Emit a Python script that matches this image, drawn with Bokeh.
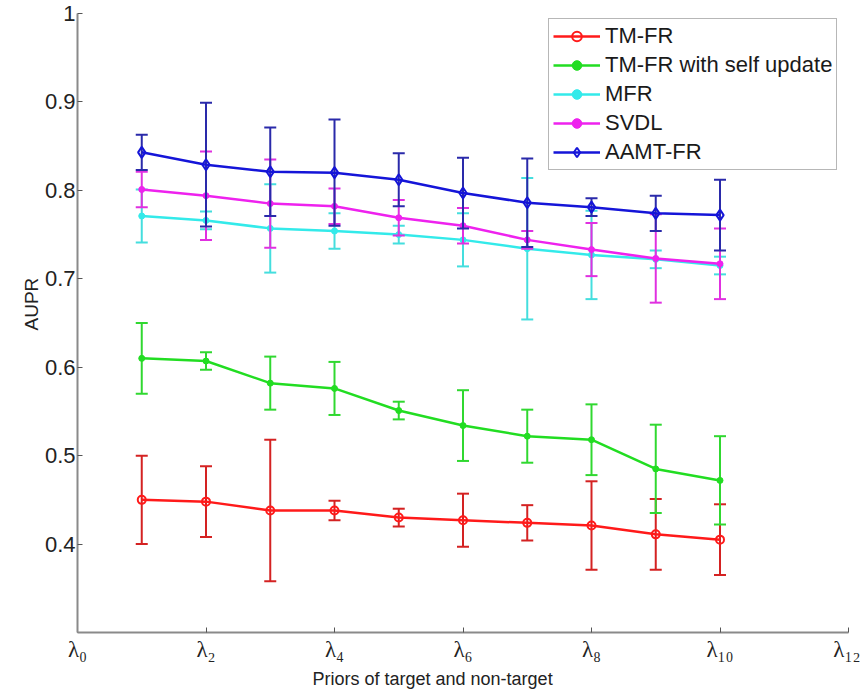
from bokeh.plotting import figure
from bokeh.models import (ColumnDataSource, Range1d, FixedTicker, Legend, LegendItem, Title)
from bokeh.embed import file_html
from bokeh.resources import INLINE

# ---- data ----
x_idx = [1, 2, 3, 4, 5, 6, 7, 8, 9, 10]

tmfr_mean = [0.450, 0.448, 0.438, 0.438, 0.430, 0.427, 0.424, 0.421, 0.411, 0.405]
tmfr_err = [0.050, 0.040, 0.080, 0.011, 0.010, 0.030, 0.020, 0.050, 0.040, 0.040]

self_mean = [0.610, 0.607, 0.582, 0.576, 0.551, 0.534, 0.522, 0.518, 0.485, 0.472]
self_err = [0.040, 0.010, 0.030, 0.030, 0.010, 0.040, 0.030, 0.040, 0.050, 0.050]

mfr_mean = [0.771, 0.766, 0.757, 0.754, 0.750, 0.744, 0.734, 0.727, 0.722, 0.715]
mfr_err = [0.030, 0.010, 0.050, 0.020, 0.010, 0.030, 0.080, 0.050, 0.010, 0.010]

svdl_mean = [0.801, 0.794, 0.785, 0.782, 0.769, 0.760, 0.744, 0.733, 0.723, 0.717]
svdl_err = [0.020, 0.050, 0.050, 0.020, 0.020, 0.020, 0.010, 0.030, 0.050, 0.040]

aamt_mean = [0.843, 0.829, 0.821, 0.820, 0.812, 0.797, 0.786, 0.781, 0.774, 0.772]
aamt_err = [0.020, 0.070, 0.050, 0.060, 0.030, 0.040, 0.050, 0.010, 0.020, 0.040]

x_ticks = [0, 2, 4, 6, 8, 10, 12]
x_tick_labels = ["λ₀", "λ₂", "λ₄", "λ₆", "λ₈", "λ₁₀", "λ₁₂"]
y_ticks = [0.4, 0.5, 0.6, 0.7, 0.8, 0.9, 1.0]
y_tick_labels = ["0.4", "0.5", "0.6", "0.7", "0.8", "0.9", "1"]
x_title = "Priors of target and non-target"
y_title = "AUPR"

series = [
    ("TM-FR", tmfr_mean, tmfr_err, "#ff1a1a", "#d42222", "circle", 8),
    ("TM-FR with self update", self_mean, self_err, "#22dd22", "#30d830", "dot", 6),
    ("MFR", mfr_mean, mfr_err, "#33eaea", "#44dede", "dot", 6),
    ("SVDL", svdl_mean, svdl_err, "#ee22ee", "#e030e0", "dot", 6),
    ("AAMT-FR", aamt_mean, aamt_err, "#1515d8", "#2a2aaa", "diamond", 11),
]

p = figure(width=860, height=695, output_backend="svg", toolbar_location=None,
           x_range=Range1d(0, 12), y_range=Range1d(0.3, 1.0),
           min_border_left=77, min_border_right=12, min_border_top=13,
           min_border_bottom=63)
p.outline_line_color = None
p.xgrid.visible = False
p.ygrid.visible = False
p.background_fill_color = "white"
p.border_fill_color = "white"

# axes
for ax in (p.xaxis, p.yaxis):
    ax.axis_line_color = "#8a8a8a"
    ax.axis_line_width = 2
    ax.major_tick_line_color = "#555555"
    ax.major_tick_line_width = 1
    ax.major_tick_in = 5
    ax.major_tick_out = 0
    ax.minor_tick_line_color = None

p.xaxis.ticker = FixedTicker(ticks=x_ticks)
p.xaxis.major_label_overrides = {t: l for t, l in zip(x_ticks, x_tick_labels)}
p.xaxis.major_label_text_font = "Liberation Serif, DejaVu Serif"
p.xaxis.major_label_text_font_size = "23px"
p.xaxis.major_label_text_color = "#222222"
p.xaxis.major_label_standoff = 4

p.yaxis.ticker = FixedTicker(ticks=y_ticks)
p.yaxis.major_label_overrides = {t: l for t, l in zip(y_ticks, y_tick_labels)}
p.yaxis.major_label_text_font = "Liberation Sans"
p.yaxis.major_label_text_font_size = "22px"
p.yaxis.major_label_text_color = "#222222"
p.yaxis.major_label_standoff = 2

# axis titles (offset like in the original figure)
p.add_layout(Title(text=x_title, align="left", offset=235, standoff=4,
                   text_font="Liberation Sans", text_font_size="18px",
                   text_font_style="normal", text_color="#222222"), "below")
p.add_layout(Title(text=y_title, align="left", offset=302, standoff=0,
                   text_font="Liberation Sans", text_font_size="19px",
                   text_font_style="normal", text_color="#222222"), "left")

items = []
for name, mean, err, lc, ec, marker, msize in series:
    upper = [m + e for m, e in zip(mean, err)]
    lower = [m - e for m, e in zip(mean, err)]
    src = ColumnDataSource(dict(x=x_idx, y=mean, upper=upper, lower=lower))
    p.segment(x0="x", y0="lower", x1="x", y1="upper", source=src,
              line_color=ec, line_width=2)
    p.scatter(x="x", y="upper", source=src, marker="dash", size=12,
              line_color=ec, line_width=2)
    p.scatter(x="x", y="lower", source=src, marker="dash", size=12,
              line_color=ec, line_width=2)
    lr = p.line(x="x", y="y", source=src, line_color=lc, line_width=2.5)
    if marker == "dot":
        mr = p.scatter(x="x", y="y", source=src, marker="circle", size=msize,
                       line_color=lc, fill_color=lc, line_width=1)
    else:
        mr = p.scatter(x="x", y="y", source=src, marker=marker, size=msize,
                       line_color=lc, fill_color=None, line_width=2)
    items.append(LegendItem(label=name, renderers=[lr, mr]))

legend = Legend(items=items, location=(471, 462))
legend.label_text_font = "Liberation Sans"
legend.label_text_font_size = "22px"
legend.label_text_color = "#1a1a1a"
legend.label_height = 24
legend.glyph_height = 24
legend.glyph_width = 47
legend.label_standoff = 5
legend.spacing = 3
legend.padding = 4
legend.margin = 0
legend.border_line_color = "#707070"
legend.border_line_width = 1.5
legend.background_fill_color = "white"
legend.background_fill_alpha = 1.0
p.add_layout(legend, "center")

open("out.html", "w").write(file_html(p, INLINE))
